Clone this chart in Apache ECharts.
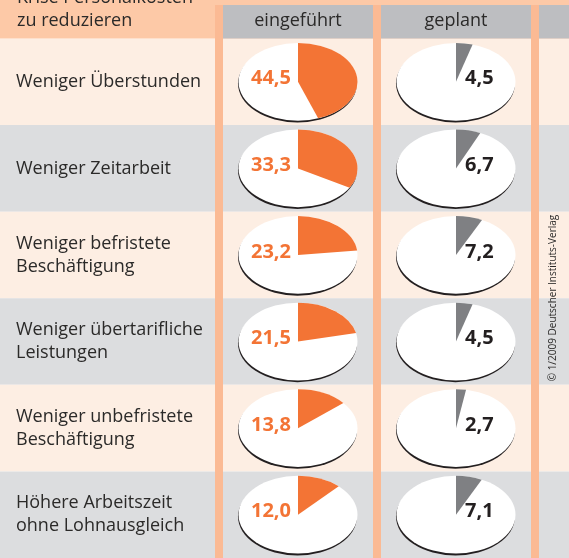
<!DOCTYPE html>
<html><head><meta charset="utf-8">
<script src="https://cdn.jsdelivr.net/npm/echarts@6/dist/echarts.min.js"></script>
<style>html,body{margin:0;padding:0;background:#fff}#c{width:569px;height:558px}</style>
</head><body><div id="c"></div>
<script>
// ---- data ----
const titleLines = ['Krise Personalkosten', 'zu reduzieren'];
const categories = [
  'Weniger Überstunden',
  'Weniger Zeitarbeit',
  'Weniger befristete\nBeschäftigung',
  'Weniger übertarifliche\nLeistungen',
  'Weniger unbefristete\nBeschäftigung',
  'Höhere Arbeitszeit\nohne Lohnausgleich'
];
const columnHeaders = ['eingeführt', 'geplant'];
const eingefuehrt = [44.5, 33.3, 23.2, 21.5, 13.8, 12.0];
const geplant = [4.5, 6.7, 7.2, 4.5, 2.7, 7.1];
const sourceText = '© 1/2009 Deutscher Instituts-Verlag';

// ---- layout / style ----
const W = 569, H = 558;
const TOP = 38.5, ROW_H = 87.25;
const COL_X = [298, 456];
const STRIPE_X = [215, 373, 531], STRIPE_W = 8;
const FONT = '"Open Sans", "Noto Sans", sans-serif';
const C = {
  header: '#fdc9a7', stripe: '#fbba94', headGrey: '#bdbec1',
  peach: '#fdeee3', grey: '#dcdddf', text: '#2b2a29',
  orange: '#f37435', slate: '#7f8083', dark: '#231f20'
};
const fmt = v => v.toFixed(1).replace('.', ',');

function pieRenderer(fill, labelColor, side) {
  return function (params, api) {
    const p = api.coord([api.value(0), api.value(1)]);
    const band = api.size([0, 1])[1];
    const rx = 59.5, ry = band * 0.449, k = ry / rx;
    const v = api.value(2);
    const a0 = -Math.PI / 2, a1 = a0 + v / 100 * Math.PI * 2;
    return {
      type: 'group', x: p[0], y: p[1], children: [
        { type: 'circle', x: -0.5, y: 1.8, scaleY: k, shape: { cx: 0, cy: 0, r: rx }, style: { fill: C.dark } },
        { type: 'circle', scaleY: k, shape: { cx: 0, cy: 0, r: rx }, style: { fill: '#fff' } },
        { type: 'sector', scaleY: k, shape: { cx: 0, cy: 0, r: rx, r0: 0, startAngle: a0, endAngle: a1, clockwise: true }, style: { fill: fill } },
        { type: 'text', x: side < 0 ? -7 : 9, y: -3, style: {
            text: fmt(v), align: side < 0 ? 'right' : 'left', verticalAlign: 'middle',
            fill: labelColor, font: 'bold 20px ' + FONT } }
      ]
    };
  };
}

const graphics = [];
graphics.push({ type: 'rect', z: 50, shape: { x: 0, y: 0, width: W, height: TOP }, style: { fill: C.header } });
// grey header boxes
const boxes = [[STRIPE_X[0] + STRIPE_W, STRIPE_X[1]], [STRIPE_X[1] + STRIPE_W, STRIPE_X[2]], [STRIPE_X[2] + STRIPE_W, W]];
boxes.forEach(b => graphics.push({ type: 'rect', z: 51, shape: { x: b[0], y: 5, width: b[1] - b[0], height: TOP - 5 }, style: { fill: C.headGrey } }));
STRIPE_X.forEach(x => graphics.push({ type: 'rect', z: 52, shape: { x: x, y: 5, width: STRIPE_W, height: H - 5 }, style: { fill: C.stripe } }));
columnHeaders.forEach((t, i) => graphics.push({ type: 'text', z: 53, x: COL_X[i], y: 21,
  style: { text: t, align: 'center', verticalAlign: 'middle', font: '18px ' + FONT, fill: C.text } }));
graphics.push({ type: 'text', z: 53, x: 17, y: 9,
  style: { text: titleLines.join('\n'), align: 'left', verticalAlign: 'middle', lineHeight: 23, font: '18px ' + FONT, fill: C.text } });
graphics.push({ type: 'text', z: 53, x: 553, y: 298, rotation: Math.PI / 2,
  style: { text: sourceText, align: 'center', verticalAlign: 'middle', font: '10px ' + FONT, fill: C.text } });

const chart = echarts.init(document.getElementById('c'), null, { renderer: 'canvas' });
chart.setOption({
  animation: false,
  backgroundColor: '#fff',
  grid: { left: 0, right: 0, top: TOP, height: ROW_H * categories.length },
  xAxis: { type: 'value', min: 0, max: W, show: false },
  yAxis: {
    type: 'category', inverse: true, data: categories,
    axisLine: { show: false }, axisTick: { show: false }, splitLine: { show: false },
    splitArea: { show: true, areaStyle: { color: [C.peach, C.grey] } },
    axisLabel: { inside: true, margin: 16, align: 'left', fontSize: 18, lineHeight: 23, fontFamily: FONT, color: C.text }
  },
  graphic: graphics,
  series: [
    { type: 'custom', z: 10, clip: false, renderItem: pieRenderer(C.orange, C.orange, -1),
      encode: { x: 0, y: 1 }, data: eingefuehrt.map((v, i) => [COL_X[0], i, v]) },
    { type: 'custom', z: 10, clip: false, renderItem: pieRenderer(C.slate, C.dark, 1),
      encode: { x: 0, y: 1 }, data: geplant.map((v, i) => [COL_X[1], i, v]) }
  ]
});
</script></body></html>
